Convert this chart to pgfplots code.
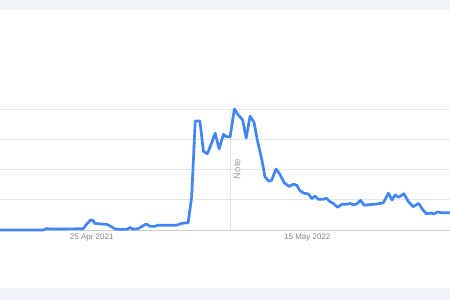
\documentclass[border=0pt]{standalone}
\usepackage{pgfplots}
\pgfplotsset{compat=1.18}
\usepackage{fontspec}
\setmainfont{Liberation Sans}
\definecolor{band}{HTML}{F0F3F8}
\definecolor{gridc}{HTML}{E6E6E6}
\definecolor{basec}{HTML}{CCCCCC}
\definecolor{gblue}{HTML}{4285F4}
\definecolor{labc}{HTML}{80868B}
\begin{document}
\begin{tikzpicture}
\fill[white] (0,0) rectangle (450bp,300bp);
\fill[band] (0,290bp) rectangle (450bp,300bp);
\fill[band] (0,0) rectangle (450bp,12bp);
\begin{axis}[
  at={(0,70bp)}, anchor=south west,
  scale only axis, width=450bp, height=121bp,
  xmin=-23.4, xmax=91.4, ymin=0, ymax=100,
  clip=false,
  axis line style={draw=none},
  ytick={25,50,75,100}, yticklabels={},
  ymajorgrids, grid style={gridc, line width=0.9bp},
  xtick={0,55}, xticklabels={25 Apr 2021,15 May 2022},
  major tick length=0pt,
  xticklabel style={font=\fontsize{8bp}{9.5bp}\selectfont, text=labc, anchor=north, inner sep=0pt, yshift=-3.3bp},
]
\draw[basec, line width=0.9bp] (axis cs:-23.4,0) -- (axis cs:91.4,0);
\draw[gridc, line width=0.9bp] (axis cs:35.3,0) -- (axis cs:35.3,100);
\node[rotate=90, text=labc!80, font=\fontsize{9.5bp}{11bp}\selectfont, inner sep=0pt] at (axis cs:37.1,50.4) {Note};
\addplot[gblue, line width=2.7bp, line join=round, no marks] coordinates {
(-23.4,0) (-12.4,0) (-11.5,1.2) (-10.6,0.8) (-2.2,1) (-1.5,4) (-0.4,8) (0.2,8.3)
(0.8,5.5) (2.1,5) (3.8,4.7) (4.7,3.3) (5.9,1) (7.2,0.5) (8.9,0.5) (9.8,2)
(10.5,0.8) (11.8,1) (13.9,5) (14.9,3) (16.1,3) (16.9,4) (21.7,4) (23.0,5.5)
(24.6,6) (25.5,27.5) (26.4,90) (27.6,90) (28.5,65) (29.5,63) (30.6,72) (31.5,80)
(32.5,67) (33.6,79) (34.4,77) (35.3,77) (36.4,100) (37.4,95) (38.5,91) (39.4,76)
(40.4,94) (41.4,89) (42.2,75) (43.4,58) (44.2,44) (45.1,40.5) (45.9,41) (47.0,50.4)
(48.0,46) (49.1,39) (50.4,36) (51.4,37.8) (52.3,37) (53.1,32.5) (54.2,30.3) (55.3,29.8)
(56.1,26) (57.0,28) (57.8,25.4) (59.1,25.4) (59.9,26.2) (60.8,23.4) (61.6,22) (62.7,18.8)
(63.8,21.2) (65.1,21.2) (65.9,22) (66.7,20.8) (67.6,21.5) (68.6,24.5) (69.5,20.5) (71.0,21)
(72.7,21.5) (74.4,22.5) (75.7,30.5) (76.6,24.8) (77.4,29) (78.3,27) (79.6,30) (80.8,23.4)
(82.0,19.3) (83.4,22) (84.5,16.5) (85.4,13.5) (86.6,14) (87.3,13.2) (88.2,15) (89.1,14.3)
(91.4,14.3)
};
\end{axis}
\pgfresetboundingbox
\path[use as bounding box] (0,0) rectangle (450bp,300bp);
\end{tikzpicture}
\end{document}
